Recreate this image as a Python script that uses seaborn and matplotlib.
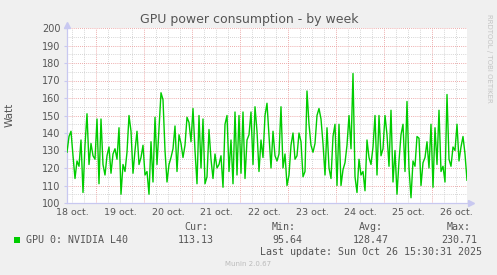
import numpy as np
import pandas as pd
import matplotlib
matplotlib.use("Agg")
import matplotlib.pyplot as plt
from matplotlib.ticker import MultipleLocator
import matplotlib.transforms as mtransforms
import seaborn as sns

# ---------------- data ----------------
title = "GPU power consumption - by week"
series_name = "GPU 0: NVIDIA L40"
y_label = "Watt"
day_labels = ["18 oct.", "19 oct.", "20 oct.", "21 oct.", "22 oct.",
              "23 oct.", "24 oct.", "25 oct.", "26 oct."]
start_hour = 9.5          # hours after 18 oct. 00:00 of first sample
step_hours = 1.0          # sample spacing
power = [
    129, 138, 141, 127, 114, 124, 121, 136, 106, 133, 151, 122, 134, 127, 125, 148, 111, 148,
    122, 116, 127, 132, 117, 128, 131, 125, 143, 105, 122, 118, 129, 150, 141, 117, 130,
    141, 122, 126, 133, 116, 118, 105, 135, 112, 149, 122, 143, 163, 159, 130, 112, 122,
    126, 131, 144, 118, 139, 134, 126, 133, 149, 146, 135, 154, 130, 111, 150, 120, 148,
    111, 115, 142, 125, 114, 128, 120, 122, 127, 109, 145, 150, 118, 136, 111, 152, 116,
    150, 117, 152, 114, 136, 139, 152, 122, 155, 141, 118, 136, 126, 150, 157, 138, 120,
    141, 127, 124, 128, 155, 120, 128, 110, 116, 133, 140, 125, 127, 140, 135, 115, 118,
    164, 145, 133, 129, 134, 150, 154, 148, 134, 116, 143, 120, 114, 138, 145, 110, 145,
    110, 119, 123, 133, 150, 131, 174, 115, 106, 125, 116, 118, 107, 136, 126, 122, 132,
    150, 116, 150, 127, 131, 150, 139, 121, 153, 112, 130, 105, 124, 139, 145, 118, 158,
    120, 103, 124, 121, 138, 137, 110, 123, 126, 135, 120, 145, 109, 143, 122, 153, 118,
    121, 112, 162, 125, 121, 132, 130, 145, 124, 132, 138, 128, 113,
]
stat_headers = ["Cur:", "Min:", "Avg:", "Max:"]
stat_values = ["113.13", "95.64", "128.47", "230.71"]
last_update = "Last update: Sun Oct 26 15:30:31 2025"
footer = "Munin 2.0.67"
side_text = "RRDTOOL / TOBI OETIKER"

hours = start_hour + step_hours * np.arange(len(power))
df = pd.DataFrame({"hour": hours, "watt": power})

# ---------------- figure ----------------
W, H = 497, 275
BG = "#F0F0F0"
TXT = "#555555"
AXC = "#C8C8F0"
fig = plt.figure(figsize=(W / 100, H / 100), dpi=100, facecolor=BG)
ax = fig.add_axes([67 / W, 72 / H, 400 / W, 175 / H])
ax.set_facecolor("white")

def fx(px):
    return px / W

def fy(py):
    return 1 - py / H

sns.lineplot(data=df, x="hour", y="watt", ax=ax, color="#00CC00", lw=1.0, zorder=5)

ax.set_xlim(9.5, 209.5)
ax.set_ylim(100, 200)

# grids
ax.yaxis.set_major_locator(MultipleLocator(10))
ax.yaxis.set_minor_locator(MultipleLocator(5))
ax.xaxis.set_major_locator(MultipleLocator(24))
ax.xaxis.set_minor_locator(MultipleLocator(6))
ax.grid(which="minor", color="#C8C8C8", linestyle=(0, (1, 1.5)), lw=0.6, zorder=1)
ax.grid(which="major", color="#E89090", linestyle=(0, (1, 1.5)), lw=0.6, zorder=2)
ax.set_axisbelow(True)

ax.set_xticklabels([])
ax.tick_params(axis="x", which="both", length=0)
ax.tick_params(axis="y", which="major", length=2, color=AXC, labelsize=7,
               labelcolor=TXT, pad=2.5)
ax.tick_params(axis="y", which="minor", length=0)
ax.set_xlabel("")
ax.set_ylabel("")

# day labels centred on noon
trans = mtransforms.blended_transform_factory(ax.transData, ax.transAxes)
for k, lab in enumerate(day_labels):
    ax.text(24 * k + 12, -0.028, lab, transform=trans, ha="center", va="top",
            fontsize=6.8, color=TXT)

for s in ["top", "right"]:
    ax.spines[s].set_visible(False)
for s in ["left", "bottom"]:
    ax.spines[s].set_color(AXC)
    ax.spines[s].set_linewidth(0.9)
ax.plot([0], [1.02], marker="^", color=AXC, markersize=4, transform=ax.transAxes,
        clip_on=False, zorder=6)
ax.plot([1.01], [0], marker=">", color=AXC, markersize=4, transform=ax.transAxes,
        clip_on=False, zorder=6)

# texts
fig.text(fx(249), fy(19), title, ha="center", va="center", fontsize=9, color=TXT)
fig.text(fx(10), fy(115), y_label, ha="center", va="center", rotation=90,
         fontsize=7.5, color=TXT)
fig.text(fx(489), fy(58), side_text, ha="center", va="center", rotation=270,
         fontsize=5, color="#C4C4C4")

mono = "DejaVu Sans Mono"
fig.patches.append(plt.Rectangle((fx(14), fy(243)), 6 / W, 6 / H, transform=fig.transFigure,
                                 facecolor="#00CC00", edgecolor="none"))
fig.text(fx(26), fy(240), series_name, ha="left", va="center", fontsize=7.2,
         family=mono, color=TXT)
head_right = [208, 296, 383, 471]
for hx, hdr, val in zip(head_right, stat_headers, stat_values):
    fig.text(fx(hx), fy(227), hdr, ha="right", va="center", fontsize=7.2,
             family=mono, color=TXT)
    fig.text(fx(hx + 6), fy(240), val, ha="right", va="center", fontsize=7.2,
             family=mono, color=TXT)
fig.text(fx(482), fy(252), last_update, ha="right", va="center", fontsize=7.2,
         family=mono, color=TXT)
fig.text(fx(248), fy(264), footer, ha="center", va="center", fontsize=5,
         color="#BBBBBB")

fig.savefig("out.png", dpi=100, facecolor=BG)
